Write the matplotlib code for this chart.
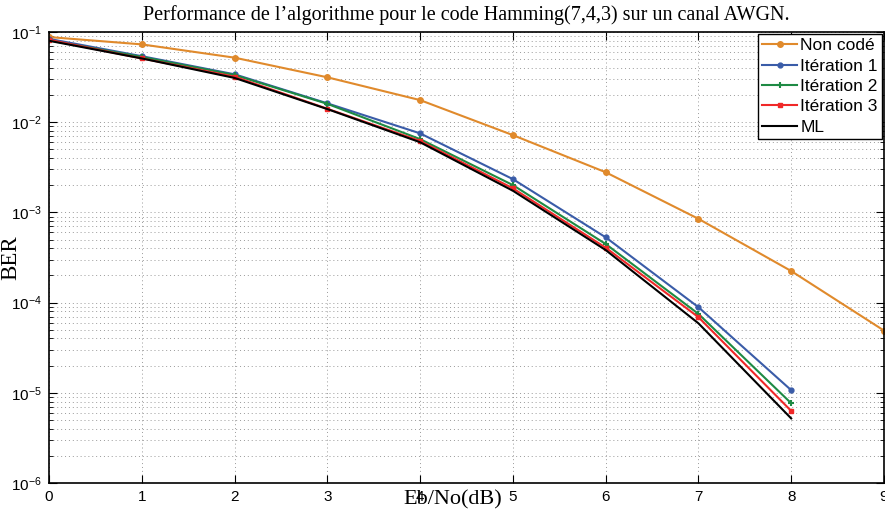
import matplotlib
matplotlib.use("Agg")
import matplotlib.pyplot as plt
from matplotlib.ticker import LogLocator, NullFormatter, FixedLocator

ebno = [0, 1, 2, 3, 4, 5, 6, 7, 8, 9]
ebno_coded = [0, 1, 2, 3, 4, 5, 6, 7, 8]
non_code = [0.088, 0.073, 0.052, 0.0315, 0.0176, 0.0072, 0.00279, 8.5e-4, 2.24e-4, 4.9e-5]
iter1 = [0.084, 0.054, 0.034, 0.0162, 0.00753, 0.00234, 5.3e-4, 8.9e-5, 1.07e-5]
iter2 = [0.081, 0.053, 0.0334, 0.0160, 0.0065, 0.00201, 4.47e-4, 7.5e-5, 7.66e-6]
iter3 = [0.082, 0.051, 0.032, 0.0141, 0.0062, 0.00185, 4.07e-4, 6.9e-5, 6.3e-6]
ml = [0.080, 0.051, 0.031, 0.0140, 0.0060, 0.00174, 3.83e-4, 5.9e-5, 5.2e-6]
labels = ["Non codé", "Itération 1", "Itération 2", "Itération 3", "ML"]

fig = plt.figure(figsize=(8.85, 5.17), dpi=100)
ax = fig.add_axes([0.0554, 0.0658, 0.9434, 0.8722])

ax.semilogy(ebno, non_code, color="#E08A2C", marker="o", markersize=4, lw=1.5, label=labels[0])
ax.semilogy(ebno_coded, iter1, color="#3A5CA8", marker="o", markersize=3.5, lw=1.5, label=labels[1])
ax.semilogy(ebno_coded, iter2, color="#1E8A44", marker="+", markersize=4, mew=1.5, lw=1.5, label=labels[2])
ax.semilogy(ebno_coded, iter3, color="#F02828", marker="s", markersize=3.5, lw=1.5, label=labels[3])
ax.semilogy(ebno_coded, ml, color="black", lw=1.5, label=labels[4])

ax.set_xlim(0, 9)
ax.set_ylim(1e-6, 1e-1)
ax.xaxis.set_major_locator(FixedLocator(range(10)))
ax.yaxis.set_major_locator(LogLocator(base=10, numticks=10))
ax.yaxis.set_minor_locator(LogLocator(base=10, subs=range(2, 10), numticks=20))
ax.yaxis.set_minor_formatter(NullFormatter())

ax.grid(True, which="major", linestyle=(0, (1, 3)), color="#999999", lw=0.7)
ax.grid(True, which="minor", axis="y", linestyle=(0, (1, 3)), color="#999999", lw=0.7)
ax.tick_params(which="both", direction="in", top=True, right=True, labelsize=11,
               labelfontfamily="Liberation Sans", pad=5)
ax.tick_params(which="major", length=6)
ax.tick_params(which="minor", length=3)
for s in ax.spines.values():
    s.set_linewidth(1.2)

ax.set_title("Performance de l\u2019algorithme pour le code Hamming(7,4,3) sur un canal AWGN.",
             fontfamily="Liberation Serif", fontsize=14.5, pad=9)
ax.set_xlabel("Eb/No(dB)", fontfamily="Liberation Serif", fontsize=16, va="center")
ax.xaxis.set_label_coords(0.484, -0.038)
ax.set_ylabel("BER", fontfamily="Liberation Serif", fontsize=16.5)
ax.yaxis.set_label_coords(-0.033, 0.5)

leg = ax.legend(loc="upper right", prop={"family": "Liberation Sans", "size": 12.5},
                fancybox=False, edgecolor="black", framealpha=1, borderpad=0.25,
                handlelength=2.0, handletextpad=0.2, labelspacing=0.3,
                borderaxespad=0.1)
leg.get_frame().set_linewidth(1.0)

fig.savefig("out.png", dpi=100)
